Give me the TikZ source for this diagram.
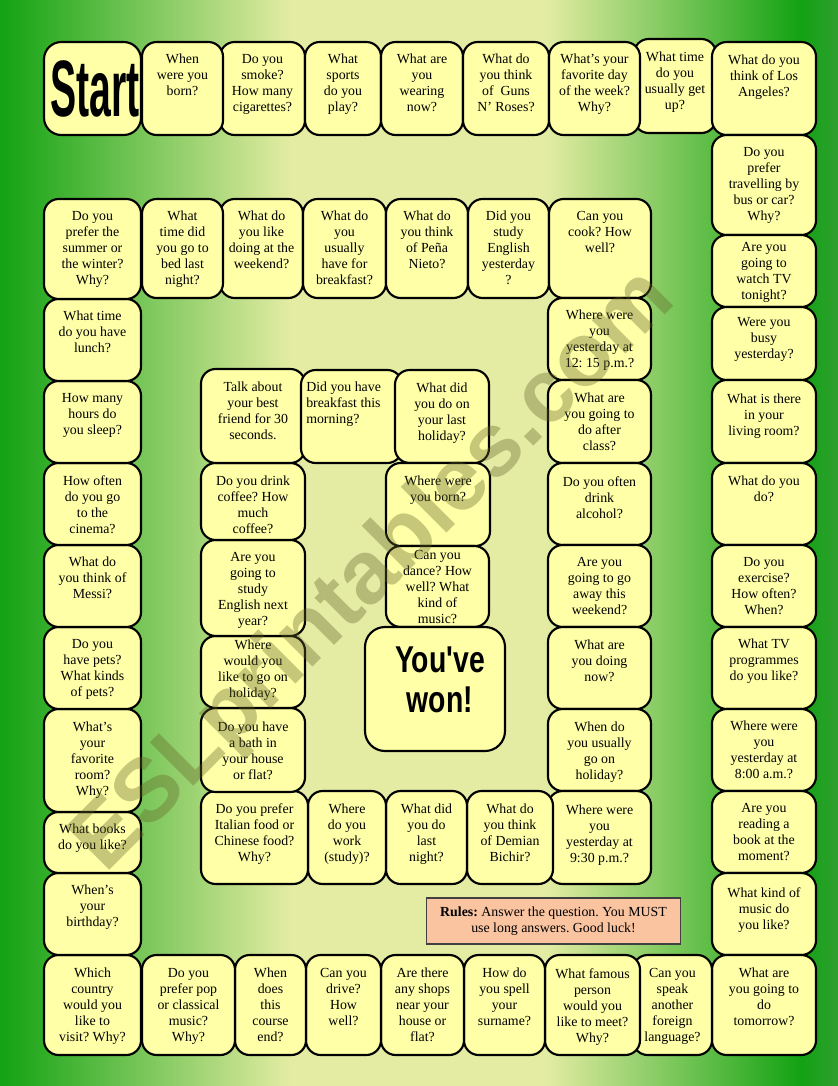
\documentclass[tikz,border=0pt]{standalone}
\usepackage{fontspec}
\setmainfont{Liberation Serif}
\newfontfamily\headfont{Liberation Sans}
\usepackage{graphicx}
\usepackage{tikz}

\definecolor{cellyellow}{RGB}{255,255,168}
\definecolor{rulesorange}{RGB}{250,196,160}
\definecolor{bggreen}{RGB}{18,162,18}
\definecolor{bgyellow}{RGB}{228,236,164}
\definecolor{bglight}{RGB}{242,246,176}
\definecolor{bgedge}{RGB}{46,160,46}
\definecolor{wmcolor}{RGB}{100,100,40}

\newcommand{\qfont}{\fontsize{10.4}{12}\selectfont}
\frenchspacing

\tikzset{
  cellbox/.style={draw=black, line width=1.6pt, fill=cellyellow, rounded corners=11pt},
  qtext/.style={anchor=north, align=center, inner sep=0pt, font=\qfont},
  bigtext/.style={inner sep=0pt, font=\headfont\bfseries},
  rulesbox/.style={draw=black!75, line width=0.8pt, fill=rulesorange, minimum width=191pt,
    minimum height=34.5pt, align=center, inner sep=2pt, font=\qfont},
  watermark/.style={inner sep=0pt, font=\headfont\bfseries\fontsize{67}{67}\selectfont,
    text=wmcolor, text opacity=0.36, rotate=45}
}

% square of the board: [top offset]{name}{x1}{y1}{x2}{y2}{question}
\newcommand{\qcell}[7][12]{%
  \draw[cellbox] (#3,#4) rectangle (#5,#6);
  \node[qtext] (#2) at ({(#3+#5)/2},{#4+#1}) {#7};}

\begin{document}
\begin{tikzpicture}[x=0.75pt, y=-0.75pt]
  \useasboundingbox (0,0) rectangle (838,1086);
  % background
  \shade[left color=bggreen, right color=bgyellow] (0,0) rectangle (291,1086);
  \shade[left color=bgyellow, middle color=bglight, right color=bgyellow] (290,0) rectangle (546,1086);
  \shade[left color=bgyellow, right color=bggreen] (545,0) rectangle (801,1086);
  \shade[left color=bggreen, right color=bgedge] (800,0) rectangle (838,1086);

  % outer track, top row
  \draw[cellbox, rounded corners=13pt] (44,42) rectangle (141,135);
  \node[bigtext] (start) at (95,89) {\scalebox{0.49}[1]{\fontsize{60}{60}\selectfont Start}};
  \qcell{smoke}{220}{42}{305}{135}{Do you\\smoke?\\How many\\cigarettes?}
  \qcell{born}{142}{42}{223}{135}{When\\were you\\born?}
  \qcell{sports}{305}{42}{381}{135}{What\\sports\\do you\\play?}
  \qcell{wearing}{381}{42}{463}{135}{What are\\you\\wearing\\now?}
  \qcell{guns}{463}{42}{549}{135}{What do\\you think\\of~ Guns\\N' Roses?}
  \qcell[13]{getup}{634}{39}{716}{133}{What time\\do you\\usually get\\up?}
  \qcell{favday}{549}{42}{640}{135}{What's your\\favorite day\\of the week?\\Why?}
  \qcell[13]{losangeles}{712}{42}{816}{135}{What do you\\think of Los\\Angeles?}

  % outer track, right column
  \qcell{travel}{712}{135}{816}{235}{Do you\\prefer\\travelling by\\bus or car?\\Why?}
  \qcell[7]{watchtv}{712}{235}{816}{307}{Are you\\going to\\watch TV\\tonight?}
  \qcell[10]{busy}{712}{307}{816}{380}{Were you\\busy\\yesterday?}
  \qcell[14]{livingroom}{712}{380}{816}{463}{What is there\\in your\\living room?}
  \qcell[13]{job}{712}{463}{816}{545}{What do you\\do?}
  \qcell{exercise}{712}{545}{816}{627}{Do you\\exercise?\\How often?\\When?}
  \qcell{tvprog}{712}{627}{816}{709}{What TV\\programmes\\do you like?}
  \qcell{eightam}{712}{709}{816}{791}{Where were\\you\\yesterday at\\8:00 a.m.?}
  \qcell{reading}{712}{791}{816}{873}{Are you\\reading a\\book at the\\moment?}
  \qcell[14]{music}{712}{873}{816}{955}{What kind of\\music do\\you like?}
  \qcell[13]{tomorrow}{712}{955}{816}{1055}{What are\\you going to\\do\\tomorrow?}

  % outer track, bottom row
  \qcell[13]{speak}{633}{955}{712}{1055}{Can you\\speak\\another\\foreign\\language?}
  \qcell[13]{famous}{545}{955}{640}{1055}{What famous\\person\\would you\\like to meet?\\Why?}
  \qcell[13]{spell}{464}{955}{545}{1055}{How do\\you spell\\your\\surname?}
  \qcell[13]{shops}{381}{955}{464}{1055}{Are there\\any shops\\near your\\house or\\flat?}
  \qcell[13]{drive}{306}{955}{381}{1055}{Can you\\drive?\\How\\well?}
  \qcell[13]{course}{235}{955}{306}{1055}{When\\does\\this\\course\\end?}
  \qcell[13]{pop}{142}{955}{235}{1055}{Do you\\prefer pop\\or classical\\music?\\Why?}
  \qcell[13]{country}{44}{955}{141}{1055}{Which\\country\\would you\\like to\\visit? Why?}

  % outer track, left column
  \qcell{birthday}{44}{873}{141}{955}{When's\\your\\birthday?}
  \qcell{books}{44}{812}{141}{873}{What books\\do you like?}
  \qcell[13]{room}{44}{709}{141}{812}{What's\\your\\favorite\\room?\\Why?}
  \qcell{pets}{44}{627}{141}{709}{Do you\\have pets?\\What kinds\\of pets?}
  \qcell{messi}{44}{545}{141}{627}{What do\\you think of\\Messi?}
  \qcell{cinema}{44}{463}{141}{545}{How often\\do you go\\to the\\cinema?}
  \qcell{sleep}{44}{381}{141}{463}{How many\\hours do\\you sleep?}
  \qcell{lunch}{44}{299}{141}{381}{What time\\do you have\\lunch?}
  \qcell{summer}{44}{199}{141}{299}{Do you\\prefer the\\summer or\\the winter?\\Why?}

  % second row
  \qcell{weekend}{220}{199}{303}{298}{What do\\you like\\doing at the\\weekend?}
  \qcell{bedtime}{142}{199}{223}{298}{What\\time did\\you go to\\bed last\\night?}
  \qcell{breakfast}{303}{199}{386}{298}{What do\\you\\usually\\have for\\breakfast?}
  \qcell{nieto}{386}{199}{468}{298}{What do\\you think\\of Peña\\Nieto?}
  \qcell{studied}{468}{199}{549}{298}{Did you\\study\\English\\yesterday\\?}
  \qcell{cook}{549}{199}{651}{298}{Can you\\cook? How\\well?}

  % inner right column
  \qcell{noon}{548}{298}{651}{380}{Where were\\you\\yesterday at\\12: 15 p.m.?}
  \qcell[13]{afterclass}{548}{380}{651}{463}{What are\\you going to\\do after\\class?}
  \qcell[13]{alcohol}{548}{463}{651}{545}{Do you often\\drink\\alcohol?}
  \qcell{away}{548}{545}{651}{627}{Are you\\going to go\\away this\\weekend?}
  \qcell[13]{doingnow}{548}{627}{651}{709}{What are\\you doing\\now?}
  \qcell[13]{holidaywhen}{548}{709}{651}{791}{When do\\you usually\\go on\\holiday?}
  \qcell[14]{ninepm}{548}{791}{651}{884}{Where were\\you\\yesterday at\\9:30 p.m.?}

  % inner bottom row
  \qcell[13]{bichir}{467}{791}{553}{884}{What do\\you think\\of Demian\\Bichir?}
  \qcell[13]{lastnight}{386}{791}{467}{884}{What did\\you do\\last\\night?}
  \qcell[13]{work}{308}{791}{386}{884}{Where\\do you\\work\\(study)?}
  \qcell{italian}{201}{791}{308}{884}{Do you prefer\\Italian food or\\Chinese food?\\Why?}

  % inner left column
  \qcell[14]{bath}{201}{708}{305}{792}{Do you have\\a bath in\\your house\\or flat?}
  \qcell[4]{holidaywhere}{201}{636}{305}{708}{Where\\would you\\like to go on\\holiday?}
  \qcell{nextyear}{201}{540}{305}{636}{Are you\\going to\\study\\English next\\year?}
  \qcell[13]{coffee}{201}{463}{305}{540}{Do you drink\\coffee? How\\much\\coffee?}
  \qcell[13]{talk}{201}{369}{305}{463}{Talk about\\your best\\friend for 30\\seconds.}
  \draw[cellbox] (301,370) rectangle (402,463);
  \node[qtext, anchor=north west, align=left] (morning) at (306,382) {Did you have\\breakfast this\\morning?};
  \qcell[13]{lastholiday}{395}{370}{489}{463}{What did\\you do on\\your last\\holiday?}

  % centre
  \qcell[13]{bornwhere}{386}{463}{490}{546}{Where were\\you born?}
  \qcell[4]{dance}{386}{546}{489}{627}{Can you\\dance? How\\well? What\\kind of\\music?}
  \draw[cellbox, rounded corners=15pt] (365,627) rectangle (505,751);
  \node[bigtext] (won) at (440,684) {\scalebox{0.76}[1]{\fontsize{28}{30}\selectfont
    \begin{tabular}{@{}c@{}}You\textquotesingle ve\\won!\end{tabular}}};

  % rules
  \node[rulesbox] (rules) at (553.5,921) {\textbf{Rules:} Answer the question. You MUST\\use long answers. Good luck!};

  % watermark
  \node[watermark, anchor=base west] (wm) at (105,875) {ESLprintables.com};
\end{tikzpicture}
\end{document}
